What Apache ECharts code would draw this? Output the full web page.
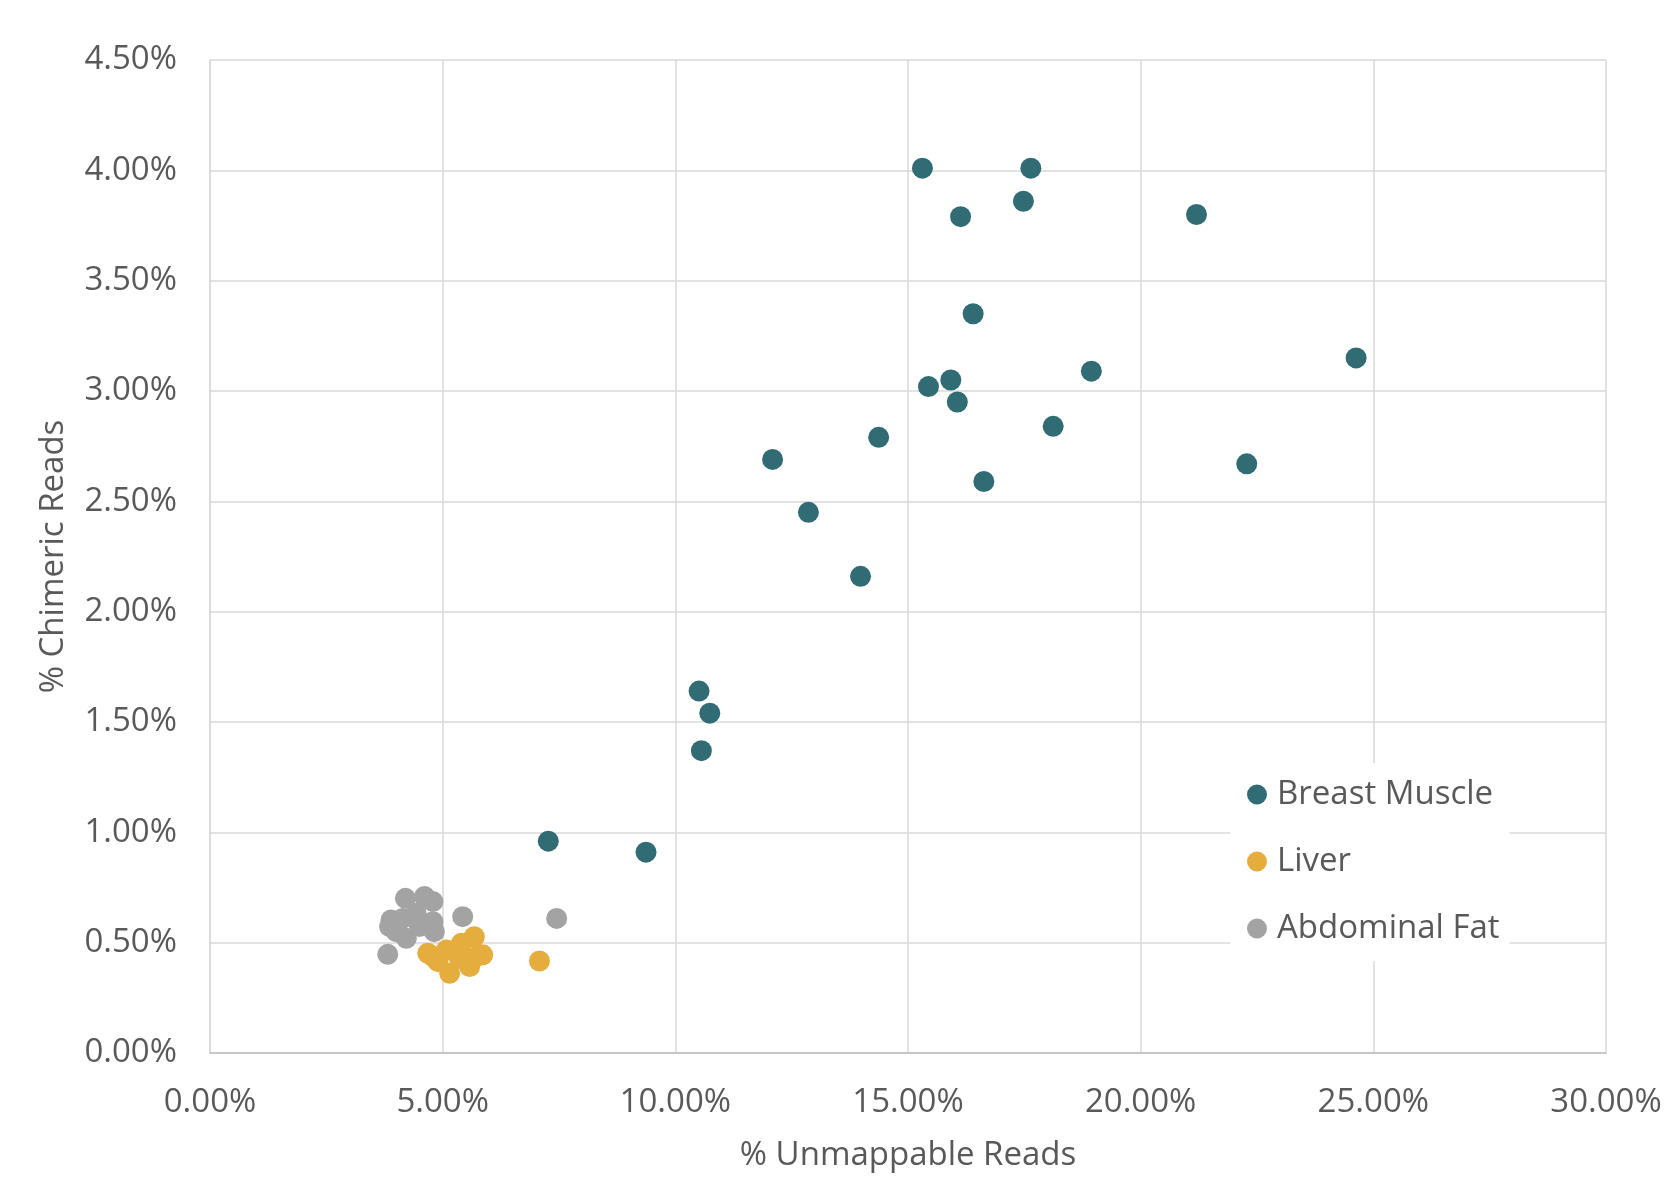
<!DOCTYPE html>
<html><head><meta charset="utf-8">
<script src="https://cdn.jsdelivr.net/npm/echarts@6/dist/echarts.min.js"></script>
<style>html,body{margin:0;padding:0;background:#fff}#c{width:1667px;height:1177px}</style>
</head><body><div id="c"></div>
<script>
// values in percent
const breastX = [15.31,17.64,17.48,16.13,21.20,16.40,24.63,18.94,15.92,15.44,16.06,14.37,18.12,12.09,22.28,16.63,12.86,13.98,10.51,10.74,10.56,7.27,9.37];
const breastY = [4.01,4.01,3.86,3.79,3.80,3.35,3.15,3.09,3.05,3.02,2.95,2.79,2.84,2.69,2.67,2.59,2.45,2.16,1.64,1.54,1.37,0.96,0.91];
const liverX = [7.08,5.68,4.68,5.08,5.40,5.86,5.15,4.90,5.58,5.36,5.72,4.79];
const liverY = [0.417,0.527,0.452,0.467,0.497,0.445,0.361,0.414,0.392,0.429,0.437,0.437];
const fatX = [5.43,7.45,3.82,4.20,4.61,4.79,3.89,4.14,4.43,4.79,4.82,4.00,4.22,4.50,3.86];
const fatY = [0.618,0.610,0.447,0.701,0.709,0.686,0.603,0.610,0.633,0.595,0.550,0.550,0.520,0.573,0.573];
const seriesNames = ['Breast Muscle','Liver','Abdominal Fat'];
const xTicks = {min:0, max:30, interval:5};
const yTicks = {min:0, max:4.5, interval:0.5};

const pair = (xs, ys) => xs.map((x,i)=>[x, ys[i]]);
const FONT = 'Open Sans';
const TXT = '#595959';
const FS = 33;
const chart = echarts.init(document.getElementById('c'), null, {renderer:'canvas'});
chart.setOption({
  animation:false,
  backgroundColor:'#fff',
  textStyle:{fontFamily:FONT},
  grid:{left:210, right:61, top:60, bottom:124, containLabel:false, outerBoundsMode:'none'},
  xAxis:{type:'value', min:xTicks.min, max:xTicks.max, interval:xTicks.interval,
    name:'% Unmappable Reads', nameLocation:'middle', nameGap:86,
    nameTextStyle:{fontFamily:FONT, fontSize:FS, color:TXT},
    axisLine:{show:true, lineStyle:{color:'#bfbfbf', width:1.5}},
    axisTick:{show:false},
    axisLabel:{fontFamily:FONT, fontSize:FS, color:TXT, margin:33, formatter:v=>v.toFixed(2)+'%'},
    splitLine:{show:true, lineStyle:{color:'#d9d9d9', width:1.5}}},
  yAxis:{type:'value', min:yTicks.min, max:yTicks.max, interval:yTicks.interval,
    name:'% Chimeric Reads', nameLocation:'middle', nameGap:140,
    nameTextStyle:{fontFamily:FONT, fontSize:FS, color:TXT},
    axisLine:{show:true, lineStyle:{color:'#d9d9d9', width:1.5}},
    axisTick:{show:false},
    axisLabel:{fontFamily:FONT, fontSize:FS, color:TXT, margin:33, formatter:v=>v.toFixed(2)+'%'},
    splitLine:{show:true, lineStyle:{color:'#d9d9d9', width:1.5}}},
  legend:{orient:'vertical', left:1230, top:763, backgroundColor:'#fff',
    padding:[15,10,16,17], itemGap:34, itemWidth:20, itemHeight:20, icon:'circle',
    textStyle:{fontFamily:FONT, fontSize:FS, color:TXT, lineHeight:33, padding:[0,0,0,5]},
    data:seriesNames},
  series:[
    {name:seriesNames[0], type:'scatter', symbolSize:21, itemStyle:{color:'#316C75', opacity:1}, data:pair(breastX, breastY)},
    {name:seriesNames[1], type:'scatter', symbolSize:21, itemStyle:{color:'#E5AC3E', opacity:1}, data:pair(liverX, liverY)},
    {name:seriesNames[2], type:'scatter', symbolSize:21, itemStyle:{color:'#A3A3A3', opacity:1}, data:pair(fatX, fatY)}
  ]
});
</script></body></html>
